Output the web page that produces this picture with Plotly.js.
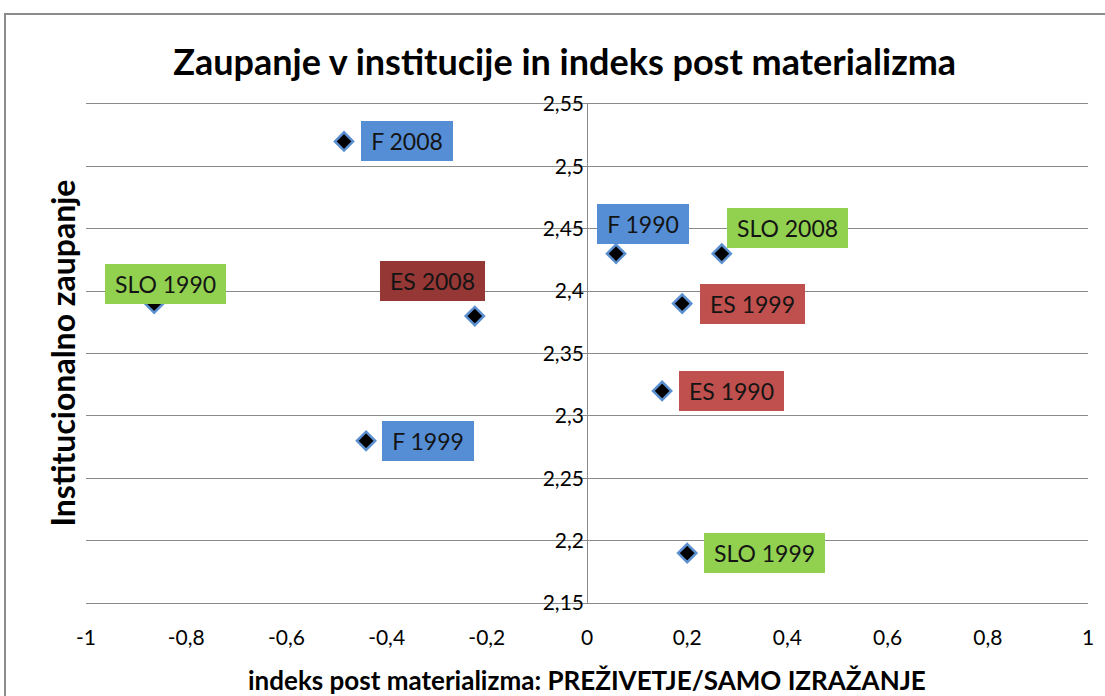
<!DOCTYPE html>
<html>
<head>
<meta charset="utf-8">
<script src="https://cdn.plot.ly/plotly-3.0.1.min.js"></script>
<style>
  html, body { margin: 0; padding: 0; background: #fff; overflow: hidden; }
  #wrap { position: relative; width: 1105px; height: 696px; overflow: hidden; }
  #chart { position: absolute; left: 0; top: 0; width: 1105px; height: 696px; }
  #frame { position: absolute; left: 4px; top: 13px; width: 1300px; height: 900px;
           border: 2px solid #8c8c8c; pointer-events: none; box-sizing: border-box; }
</style>
</head>
<body>
<div id="wrap">
  <div id="chart"></div>
  <div id="frame"></div>
</div>
<script>
// ---- data ----
const categories = ['F 2008', 'SLO 1990', 'ES 2008', 'F 1990', 'SLO 2008', 'ES 1999', 'ES 1990', 'F 1999', 'SLO 1999'];
const xValues = [-0.485, -0.864, -0.224, 0.058, 0.269, 0.19, 0.15, -0.441, 0.2];
const yValues = [2.52, 2.39, 2.38, 2.43, 2.43, 2.39, 2.32, 2.28, 2.19];

const xTickVals = [-1, -0.8, -0.6, -0.4, -0.2, 0, 0.2, 0.4, 0.6, 0.8, 1];
const xTickText = ['-1', '-0,8', '-0,6', '-0,4', '-0,2', '0', '0,2', '0,4', '0,6', '0,8', '1'];
const yTickVals = [2.15, 2.2, 2.25, 2.3, 2.35, 2.4, 2.45, 2.5, 2.55];
const yTickText = ['2,15', '2,2', '2,25', '2,3', '2,35', '2,4', '2,45', '2,5', '2,55'];

const titleText = 'Zaupanje v institucije in indeks post materializma';
const xTitleText = 'indeks post materializma: PREŽIVETJE/SAMO IZRAŽANJE';
const yTitleText = 'Institucionalno zaupanje';

// ---- label styling (pixel offsets of label box from its point, box colours) ----
const labelDx = [63, 11, -42, 27, 66, 70, 69, 62, 77];
const labelDy = [0, 20, 35, 30, 26, 0, 0, 0, 0];
const labelColors = ['#558ED5', '#92D050', '#953735', '#558ED5', '#92D050', '#C0504D', '#C0504D', '#558ED5', '#92D050'];

const FONT = 'Lato, "Open Sans", sans-serif';
const labelSize = 23;

const ctx = document.createElement('canvas').getContext('2d');
ctx.font = labelSize + 'px Lato';

const labelAnnotations = categories.map((c, i) => ({
  x: xValues[i], y: yValues[i], xref: 'x', yref: 'y',
  text: c, showarrow: false,
  xshift: labelDx[i], yshift: labelDy[i],
  bgcolor: labelColors[i],
  width: Math.round(ctx.measureText(c).width + 16),
  height: 36, borderpad: 2, borderwidth: 0,
  align: 'center', valign: 'middle',
  font: { family: FONT, size: labelSize, color: '#141414' }
}));

const trace = {
  type: 'scatter', mode: 'markers',
  x: xValues, y: yValues, text: categories,
  marker: { symbol: 'diamond', size: 14, color: '#000000',
            line: { color: '#5B8FD0', width: 2.5 } },
  hoverinfo: 'text'
};

const layout = {
  width: 1105, height: 696,
  margin: { l: 86, r: 17, t: 104, b: 93 },
  paper_bgcolor: '#ffffff', plot_bgcolor: '#ffffff',
  showlegend: false,
  title: {
    text: titleText, xref: 'container', x: 0.511, xanchor: 'center',
    yref: 'container', y: 0.911, yanchor: 'middle',
    font: { family: FONT, size: 36, weight: 'bold', color: '#000' }
  },
  xaxis: {
    range: [-1, 1], tickvals: xTickVals, ticktext: xTickText,
    showgrid: false, zeroline: true, zerolinecolor: '#8a8a8a', zerolinewidth: 1,
    showline: true, linecolor: '#8a8a8a', linewidth: 1, mirror: true,
    ticks: '', ticklabelstandoff: 16,
    tickfont: { family: FONT, size: 21, color: '#000' }
  },
  yaxis: {
    range: [2.15, 2.55], tickvals: yTickVals, ticktext: yTickText,
    anchor: 'free', position: 0.5,
    showgrid: true, gridcolor: '#8a8a8a', gridwidth: 1,
    zeroline: false, showline: false, ticks: '', ticklabelstandoff: 3,
    tickfont: { family: FONT, size: 21, color: '#000' }
  },
  annotations: labelAnnotations.concat([
    { text: yTitleText, xref: 'paper', yref: 'paper', x: 0, y: 0.5,
      xanchor: 'center', yanchor: 'middle', xshift: -24, textangle: -90,
      showarrow: false, font: { family: FONT, size: 32, weight: 'bold', color: '#000' } },
    { text: xTitleText, xref: 'paper', yref: 'paper', x: 0.5, y: 0,
      xanchor: 'center', yanchor: 'middle', yshift: -77,
      showarrow: false, font: { family: FONT, size: 26, weight: 'bold', color: '#000' } }
  ])
};

Plotly.newPlot('chart', [trace], layout, { staticPlot: true, displayModeBar: false });
</script>
</body>
</html>
